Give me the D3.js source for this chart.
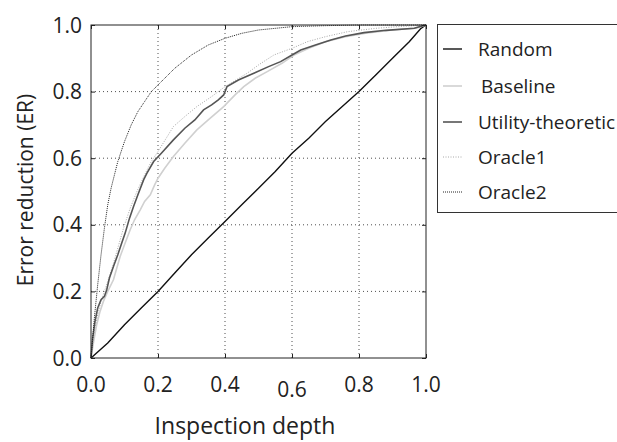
<!DOCTYPE html>
<html>
<head>
<meta charset="utf-8">
<script src="https://cdn.jsdelivr.net/npm/d3@7"></script>
<style>
  body { margin: 0; background: #fff; }
  text { font-family: "Open Sans", sans-serif; fill: #222; }
</style>
</head>
<body>
<svg id="chart" width="617" height="442"></svg>
<script>
const W = 617, H = 442;
const margin = {left: 91, top: 25, right: 191, bottom: 84};

// curves: [inspection depth, error reduction]
const random = [[0,0],[0.05,0.045],[0.1,0.1],[0.15,0.15],[0.2,0.2],[0.25,0.255],[0.3,0.31],[0.35,0.36],[0.4,0.41],
  [0.45,0.46],[0.5,0.51],[0.55,0.56],[0.6,0.615],[0.65,0.66],[0.7,0.71],[0.75,0.755],[0.8,0.8],[0.85,0.85],
  [0.9,0.9],[0.95,0.95],[0.985,0.99],[1,1]];
const baseline = [[0,0],[0.008,0.05],[0.017,0.1],[0.027,0.14],[0.037,0.17],[0.05,0.2],[0.067,0.235],[0.077,0.27],
  [0.087,0.305],[0.1,0.34],[0.117,0.385],[0.13,0.415],[0.147,0.445],[0.16,0.47],[0.177,0.49],[0.19,0.52],[0.2,0.54],
  [0.22,0.57],[0.246,0.605],[0.28,0.645],[0.316,0.685],[0.35,0.715],[0.396,0.755],[0.43,0.79],[0.456,0.815],
  [0.49,0.84],[0.526,0.86],[0.57,0.885],[0.606,0.91],[0.65,0.93],[0.7,0.95],[0.76,0.965],[0.82,0.975],[0.9,0.985],
  [0.97,0.99],[1,1]];
const utility = [[0,0],[0.005,0.06],[0.012,0.11],[0.02,0.15],[0.03,0.175],[0.04,0.185],[0.047,0.205],[0.055,0.24],
  [0.067,0.275],[0.08,0.31],[0.09,0.34],[0.102,0.375],[0.115,0.42],[0.127,0.455],[0.14,0.49],[0.157,0.535],
  [0.167,0.555],[0.187,0.59],[0.21,0.615],[0.246,0.655],[0.28,0.69],[0.31,0.715],[0.336,0.745],[0.36,0.76],
  [0.38,0.775],[0.396,0.79],[0.406,0.815],[0.44,0.835],[0.486,0.855],[0.53,0.875],[0.566,0.89],[0.6,0.91],
  [0.626,0.925],[0.67,0.94],[0.716,0.955],[0.76,0.967],[0.815,0.977],[0.88,0.984],[0.965,0.99],[0.98,0.995],[1,1]];
const oracle1 = [[0,0],[0.01,0.08],[0.02,0.13],[0.03,0.17],[0.04,0.2],[0.05,0.23],[0.067,0.284],[0.08,0.33],
  [0.097,0.39],[0.117,0.45],[0.137,0.5],[0.16,0.55],[0.18,0.59],[0.2,0.62],[0.246,0.695],[0.28,0.725],[0.316,0.755],
  [0.36,0.785],[0.4,0.815],[0.466,0.855],[0.5,0.88],[0.546,0.91],[0.6,0.93],[0.646,0.95],[0.7,0.965],[0.766,0.98],
  [0.85,0.99],[0.915,0.995],[1,1]];
const oracle2 = [[0,0],[0.01,0.12],[0.02,0.22],[0.03,0.31],[0.04,0.39],[0.05,0.46],[0.06,0.51],[0.07,0.55],
  [0.08,0.59],[0.09,0.62],[0.1,0.65],[0.12,0.7],[0.14,0.74],[0.16,0.77],[0.18,0.8],[0.2,0.82],[0.25,0.87],
  [0.3,0.91],[0.35,0.94],[0.4,0.96],[0.45,0.975],[0.5,0.985],[0.55,0.99],[0.6,0.995],[0.7,0.998],[0.8,1],[0.9,1],[1,1]];

const seriesNames = ["Random", "Baseline", "Utility-theoretic", "Oracle1", "Oracle2"];
const seriesData = [random, baseline, utility, oracle1, oracle2];
const ticks = [0, 0.2, 0.4, 0.6, 0.8, 1.0];

const styles = [
  {color: "#111", width: 1.4, dash: null},
  {color: "#d0d0d0", width: 1.6, dash: null},
  {color: "#555", width: 1.6, dash: null},
  {color: "#a8a8a8", width: 1, dash: "1,1.5"},
  {color: "#222", width: 1, dash: "1,1"}
];

const svg = d3.select("#chart");
const pw = W - margin.left - margin.right, ph = H - margin.top - margin.bottom;

const x = d3.scaleLinear().domain([0, 1]).range([margin.left, margin.left + pw]);
const y = d3.scaleLinear().domain([0, 1]).range([margin.top + ph, margin.top]);

// dotted grid
const grid = svg.append("g");
grid.selectAll(".gx").data(ticks.slice(1, -1)).enter().append("line")
  .attr("x1", d => x(d)).attr("x2", d => x(d))
  .attr("y1", y(0)).attr("y2", y(1))
  .attr("stroke", "#222").attr("stroke-width", 0.8).attr("stroke-dasharray", "1,3");
grid.selectAll(".gy").data(ticks.slice(1, -1)).enter().append("line")
  .attr("y1", d => y(d)).attr("y2", d => y(d))
  .attr("x1", x(0)).attr("x2", x(1))
  .attr("stroke", "#222").attr("stroke-width", 0.8).attr("stroke-dasharray", "1,3");

// curves
const line = d3.line().x(d => x(d[0])).y(d => y(d[1]));
const plot = svg.append("g");
// draw order: random, baseline, oracle1, utility, oracle2
[0, 1, 3, 2, 4].forEach(i => {
  plot.append("path")
    .attr("d", line(seriesData[i]))
    .attr("fill", "none")
    .attr("stroke", styles[i].color)
    .attr("stroke-width", styles[i].width)
    .attr("stroke-dasharray", styles[i].dash);
});

// frame
svg.append("rect")
  .attr("x", x(0)).attr("y", y(1)).attr("width", pw).attr("height", ph)
  .attr("fill", "none").attr("stroke", "#222").attr("stroke-width", 1);

// inward ticks on all four sides
const xb = d3.axisBottom(x).tickValues(ticks).tickSize(-4).tickFormat("");
const xt = d3.axisTop(x).tickValues(ticks).tickSize(-4).tickFormat("");
const yl = d3.axisLeft(y).tickValues(ticks).tickSize(-4).tickFormat("");
const yr = d3.axisRight(y).tickValues(ticks).tickSize(-4).tickFormat("");
[[xb, `translate(0,${y(0)})`], [xt, `translate(0,${y(1)})`],
 [yl, `translate(${x(0)},0)`], [yr, `translate(${x(1)},0)`]].forEach(([ax, tr]) => {
  const g = svg.append("g").attr("transform", tr).call(ax);
  g.select(".domain").remove();
  g.selectAll("line").attr("stroke", "#222");
});

// tick labels
svg.append("g").selectAll("text").data(ticks).enter().append("text")
  .attr("x", d => x(d)).attr("y", d => d === 0.6 ? 397 : 392)
  .attr("text-anchor", "middle").attr("font-size", 21)
  .text(d => d.toFixed(1));
svg.append("g").selectAll("text").data(ticks).enter().append("text")
  .attr("x", 82).attr("y", d => y(d)).attr("dy", "0.36em")
  .attr("text-anchor", "end").attr("font-size", 21)
  .text(d => d.toFixed(1));

// axis titles
svg.append("text").attr("x", 245).attr("y", 434)
  .attr("text-anchor", "middle").attr("font-size", 23).text("Inspection depth");
svg.append("text").attr("transform", `translate(33,190) rotate(-90)`)
  .attr("text-anchor", "middle").attr("font-size", 21).text("Error reduction (ER)");

// legend
const lg = svg.append("g");
lg.append("rect").attr("x", 437.5).attr("y", 24.5).attr("width", 200).attr("height", 188)
  .attr("fill", "#fff").attr("stroke", "#333").attr("stroke-width", 1);
const rowY = [49, 86, 122, 157, 192];
seriesNames.forEach((name, i) => {
  lg.append("line").attr("x1", 443).attr("x2", 462).attr("y1", rowY[i]).attr("y2", rowY[i])
    .attr("stroke", styles[i].color).attr("stroke-width", styles[i].width)
    .attr("stroke-dasharray", styles[i].dash);
  lg.append("text").attr("x", i === 1 ? 481 : 478).attr("y", rowY[i]).attr("dy", "0.36em")
    .attr("font-size", 19).text(name);
});
</script>
</body>
</html>
